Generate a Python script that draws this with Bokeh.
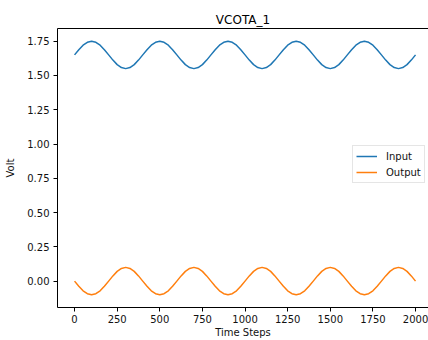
from bokeh.plotting import figure
from bokeh.models import (Range1d, FixedTicker, PrintfTickFormatter, LinearAxis,
                          Title, Legend, LegendItem)
from bokeh.embed import file_html
from bokeh.resources import INLINE

time_steps = list(range(0, 2001, 25))

input_v = [
    1.650, 1.688, 1.721, 1.742, 1.750, 1.742, 1.721, 1.688,
    1.650, 1.612, 1.579, 1.558, 1.550, 1.558, 1.579, 1.612,
    1.650, 1.688, 1.721, 1.742, 1.750, 1.742, 1.721, 1.688,
    1.650, 1.612, 1.579, 1.558, 1.550, 1.558, 1.579, 1.612,
    1.650, 1.688, 1.721, 1.742, 1.750, 1.742, 1.721, 1.688,
    1.650, 1.612, 1.579, 1.558, 1.550, 1.558, 1.579, 1.612,
    1.650, 1.688, 1.721, 1.742, 1.750, 1.742, 1.721, 1.688,
    1.650, 1.612, 1.579, 1.558, 1.550, 1.558, 1.579, 1.612,
    1.650, 1.688, 1.721, 1.742, 1.750, 1.742, 1.721, 1.688,
    1.650, 1.612, 1.579, 1.558, 1.550, 1.558, 1.579, 1.612,
    1.650,
]

output_v = [
    0.000, -0.038, -0.071, -0.092, -0.100, -0.092, -0.071, -0.038,
    0.000, 0.038, 0.071, 0.092, 0.100, 0.092, 0.071, 0.038,
    0.000, -0.038, -0.071, -0.092, -0.100, -0.092, -0.071, -0.038,
    0.000, 0.038, 0.071, 0.092, 0.100, 0.092, 0.071, 0.038,
    0.000, -0.038, -0.071, -0.092, -0.100, -0.092, -0.071, -0.038,
    0.000, 0.038, 0.071, 0.092, 0.100, 0.092, 0.071, 0.038,
    0.000, -0.038, -0.071, -0.092, -0.100, -0.092, -0.071, -0.038,
    0.000, 0.038, 0.071, 0.092, 0.100, 0.092, 0.071, 0.038,
    0.000, -0.038, -0.071, -0.092, -0.100, -0.092, -0.071, -0.038,
    0.000, 0.038, 0.071, 0.092, 0.100, 0.092, 0.071, 0.038,
    0.000,
]

x_ticks = [0, 250, 500, 750, 1000, 1250, 1500, 1750, 2000]
y_ticks = [0.0, 0.25, 0.5, 0.75, 1.0, 1.25, 1.5, 1.75]

FONT = "DejaVu Sans"
TXT = "#111111"
FS = "10px"

p = figure(width=428, height=340, output_backend="svg", toolbar_location=None,
           title=None,
           x_range=Range1d(-100, 2076), y_range=Range1d(-0.1925, 1.8425),
           min_border_left=57, min_border_right=0, min_border_top=28,
           min_border_bottom=32)
p.background_fill_color = "white"
p.border_fill_color = "white"
p.outline_line_color = None
p.grid.visible = False

r1 = p.line(time_steps, input_v, line_color="#1f77b4", line_width=1.5)
r2 = p.line(time_steps, output_v, line_color="#ff7f0e", line_width=1.5)

for ax in (p.xaxis[0], p.yaxis[0]):
    ax.axis_line_color = "#000000"
    ax.axis_line_width = 1
    ax.major_tick_line_color = "#000000"
    ax.major_tick_out = 4
    ax.major_tick_in = 0
    ax.minor_tick_line_color = None
    ax.major_label_text_font = FONT
    ax.major_label_text_font_size = FS
    ax.major_label_text_color = TXT
    ax.axis_label_text_font = FONT
    ax.axis_label_text_font_size = FS
    ax.axis_label_text_font_style = "normal"
    ax.axis_label_text_color = TXT

p.xaxis[0].ticker = FixedTicker(ticks=x_ticks)
p.yaxis[0].ticker = FixedTicker(ticks=y_ticks)
p.yaxis[0].formatter = PrintfTickFormatter(format="%.2f")
p.xaxis[0].axis_label = "Time Steps"
p.yaxis[0].axis_label = "Volt"
p.xaxis[0].major_label_standoff = 3
p.xaxis[0].axis_label_standoff = 1
p.yaxis[0].major_label_standoff = 4
p.yaxis[0].axis_label_standoff = 8

top = LinearAxis(ticker=FixedTicker(ticks=[]), major_label_text_font_size="0px",
                 axis_line_color="#000000", axis_line_width=1,
                 major_tick_line_color=None, minor_tick_line_color=None)
p.add_layout(top, "above")

title = Title(text="VCOTA_1", align="center", text_font=FONT,
              text_font_size="12px", text_font_style="normal",
              text_color="#000000", standoff=4)
p.add_layout(title, "above")

legend = Legend(items=[LegendItem(label="Input", renderers=[r1]),
                       LegendItem(label="Output", renderers=[r2])],
                location=(295, 124), margin=0, padding=3, spacing=2,
                label_text_font=FONT, label_text_font_size=FS,
                label_text_color=TXT, label_height=14, glyph_height=14,
                glyph_width=21, label_standoff=9,
                border_line_color="#cccccc", border_line_width=1,
                background_fill_color="white", background_fill_alpha=0.8)
p.add_layout(legend, "center")

open("out.html", "w").write(file_html(p, INLINE))
